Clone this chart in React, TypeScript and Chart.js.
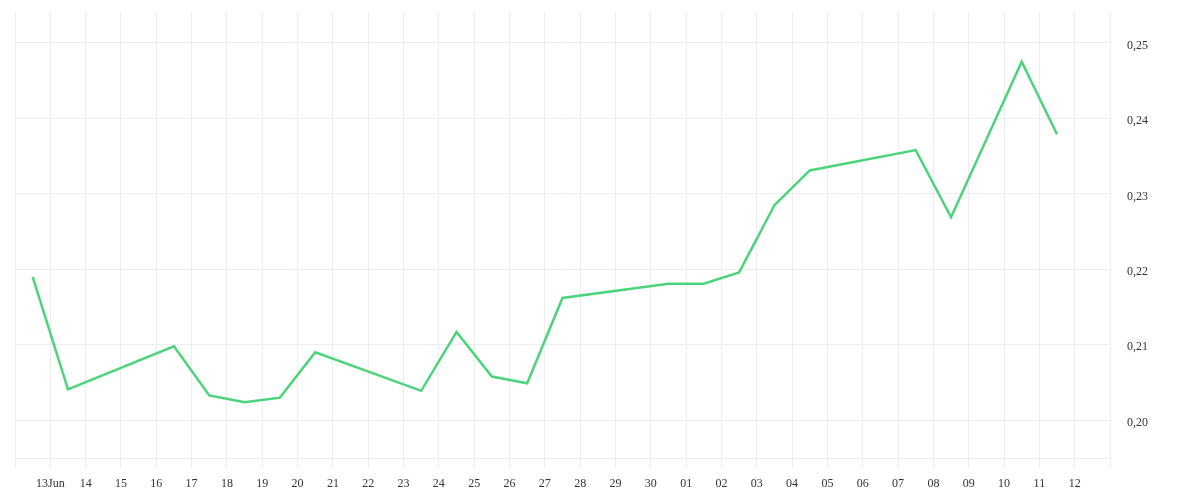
import React, { useEffect, useRef } from "react";
import { Chart, registerables } from "chart.js";

Chart.register(...registerables);

// x positions in days from 13 Jun (0 = 13 Jun, 30 = 13 Jul)
const pointDays = [
  -0.5, 0.5, 3.5, 4.5, 5.5, 6.5, 7.5, 10.5, 11.5, 12.5, 13.5, 14.5, 17.5, 18.5,
  19.5, 20.5, 21.5, 24.5, 25.5, 27.5, 28.5,
];
const pointValues = [
  0.2190, 0.2041, 0.2098, 0.2033, 0.2024, 0.2030, 0.2090, 0.2039, 0.2117,
  0.2058, 0.2049, 0.2162, 0.2181, 0.2181, 0.2196, 0.2285, 0.2331, 0.2358,
  0.2269, 0.2475, 0.2379,
];
const dayLabels = [
  "13Jun", "14", "15", "16", "17", "18", "19", "20", "21", "22", "23", "24",
  "25", "26", "27", "28", "29", "30", "01", "02", "03", "04", "05", "06", "07",
  "08", "09", "10", "11", "12",
];
const yTickValues = [0.2, 0.21, 0.22, 0.23, 0.24, 0.25];

const GRID = "#ededed";
const FONT = { family: "'Liberation Serif', serif", size: 12 };

export default function App() {
  const ref = useRef<HTMLCanvasElement | null>(null);
  useEffect(() => {
    if (!ref.current) return;
    const chart = new Chart(ref.current, {
      type: "line",
      data: {
        datasets: [
          {
            data: pointDays.map((d, i) => ({ x: d, y: pointValues[i] })),
            borderColor: "#4cd47b",
            borderWidth: 2.5,
            pointRadius: 0,
            tension: 0,
            fill: false,
          },
        ],
      },
      options: {
        animation: false,
        responsive: true,
        maintainAspectRatio: false,
        layout: { padding: { left: 7, top: 4, right: 0, bottom: 0 } },
        plugins: { legend: { display: false }, tooltip: { enabled: false } },
        scales: {
          x: {
            type: "linear",
            min: -1,
            max: 30,
            grid: { color: GRID, tickLength: 10, drawTicks: true },
            border: { color: GRID },
            afterBuildTicks: (scale: any) => {
              const t = [];
              for (let i = -1; i <= 30; i++) t.push({ value: i });
              scale.ticks = t;
            },
            afterFit: (scale: any) => {
              scale.height = 34;
              scale.paddingLeft = 0;
              scale.paddingRight = 0;
            },
            ticks: {
              autoSkip: false,
              maxRotation: 0,
              minRotation: 0,
              padding: 9,
              color: "#333",
              font: FONT,
              callback: (v: any) => dayLabels[Math.round(v)] ?? "",
            },
          },
          y: {
            type: "linear",
            position: "right",
            min: 0.195,
            max: 0.2541,
            grid: { color: GRID, drawTicks: false },
            border: { color: GRID },
            afterBuildTicks: (scale: any) => {
              scale.ticks = yTickValues.map((v) => ({ value: v }));
            },
            afterFit: (scale: any) => {
              scale.width = 82;
              scale.paddingTop = 0;
              scale.paddingBottom = 0;
            },
            ticks: {
              padding: 17,
              labelOffset: 2.5,
              color: "#333",
              font: FONT,
              callback: (v: any) => Number(v).toFixed(2).replace(".", ","),
            },
          },
        },
      },
    });
    return () => chart.destroy();
  }, []);
  return (
    <div style={{ width: 1184, height: 484, position: "relative" }}>
      <canvas ref={ref} />
    </div>
  );
}
